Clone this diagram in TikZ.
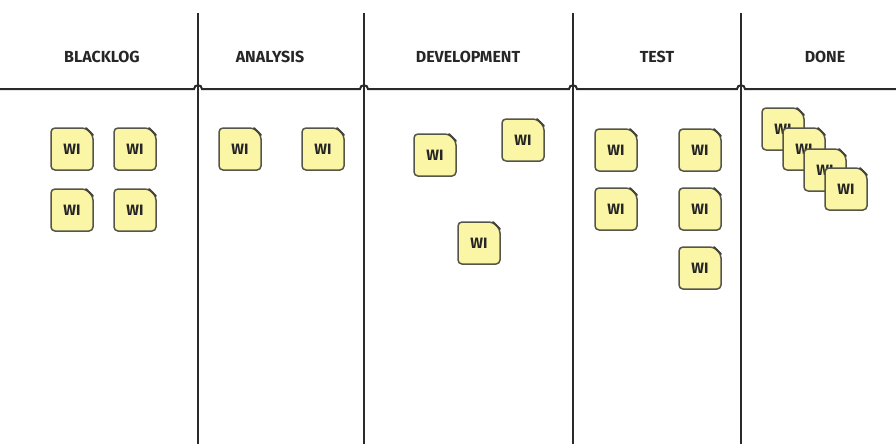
\documentclass[tikz,border=0pt]{standalone}
\usepackage{fontspec}
\setmainfont{Fira Sans}
\definecolor{notefill}{HTML}{FBF6A6}
\definecolor{noteline}{HTML}{55554A}
\definecolor{boardline}{HTML}{2A2A2A}
\tikzset{
  board/.style={draw=boardline, line width=2pt},
  head/.style={font=\fontsize{16}{18}\selectfont\bfseries, text=black!85},
  wishape/.style={draw=noteline, fill=notefill, line width=1.5pt, rounded corners=4pt, line join=round},
  wi/.style={font=\fontsize{15}{16}\selectfont\bfseries, text=black!85, inner sep=0pt, minimum width=42pt, minimum height=42pt}
}
\begin{document}
\begin{tikzpicture}[x=1pt,y=-1pt]
\useasboundingbox (0,0) rectangle (896,444);
% board lines
\foreach \vx in {198,364,573,741}{
  \draw[board] (\vx,13) -- (\vx,444);
}
\draw[board] (0,89) -- (194,89) .. controls (194,84) and (202,84) .. (202,89)
  -- (360,89) .. controls (360,84) and (368,84) .. (368,89)
  -- (569,89) .. controls (569,84) and (577,84) .. (577,89)
  -- (737,89) .. controls (737,84) and (745,84) .. (745,89) -- (896,89);
% headers
\node[head] (h1) at (102,57) {BLACKLOG};
\node[head] (h2) at (270,57) {ANALYSIS};
\node[head] (h3) at (468,57) {DEVELOPMENT};
\node[head] (h4) at (657,57) {TEST};
\node[head] (h5) at (825,57) {DONE};
% work items
\foreach \n/\x/\y in {
  b1/72/149, b2/135/149, b3/72/210, b4/135/210,
  a1/240/149, a2/323/149,
  d1/435/155, d2/523/140, d3/479/243,
  t1/616/150, t2/700/150, t3/616/209, t4/700/209, t5/700/268,
  f1/783/129, f2/804/149, f3/825/170, f4/846/189}{
  \draw[wishape] (\x-21,\y-21) -- (\x+14,\y-21) -- (\x+21,\y-14) -- (\x+21,\y+21) -- (\x-21,\y+21) -- cycle;
  \draw[noteline!80!black, line width=1.8pt, line cap=round] (\x+14,\y-21) -- (\x+21,\y-14);
  \node[wi] (\n) at (\x,\y) {WI};
}
\end{tikzpicture}
\end{document}
